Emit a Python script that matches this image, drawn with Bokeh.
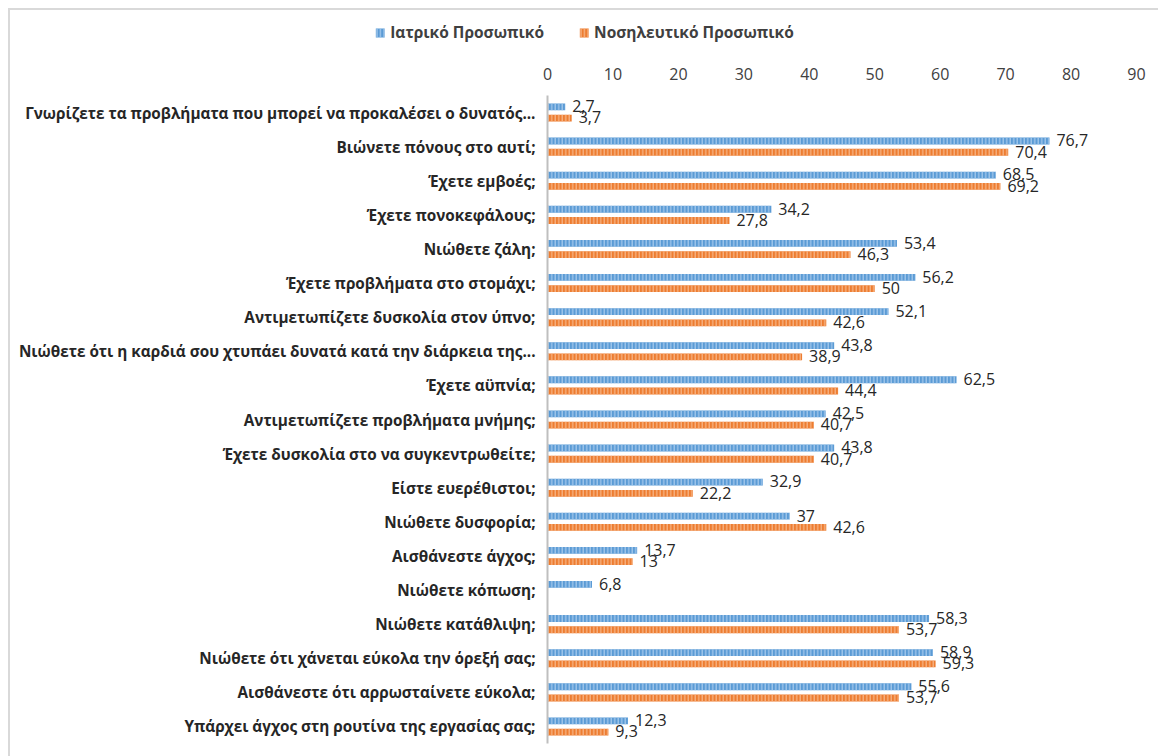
from bokeh.plotting import figure
from bokeh.layouts import column
from bokeh.models import (ColumnDataSource, FactorRange, Range1d, FixedTicker, Legend,
                          LegendItem, CDSView, BooleanFilter)
from bokeh.transform import dodge
from bokeh.core.properties import value
from bokeh.embed import file_html
from bokeh.resources import INLINE

questions = [
    "Γνωρίζετε τα προβλήματα που μπορεί να προκαλέσει ο δυνατός...",
    "Βιώνετε πόνους στο αυτί;",
    "Έχετε εμβοές;",
    "Έχετε πονοκεφάλους;",
    "Νιώθετε ζάλη;",
    "Έχετε προβλήματα στο στομάχι;",
    "Αντιμετωπίζετε δυσκολία στον ύπνο;",
    "Νιώθετε ότι η καρδιά σου χτυπάει δυνατά κατά την διάρκεια της...",
    "Έχετε αϋπνία;",
    "Αντιμετωπίζετε προβλήματα μνήμης;",
    "Έχετε δυσκολία στο να συγκεντρωθείτε;",
    "Είστε ευερέθιστοι;",
    "Νιώθετε δυσφορία;",
    "Αισθάνεστε άγχος;",
    "Νιώθετε κόπωση;",
    "Νιώθετε κατάθλιψη;",
    "Νιώθετε ότι χάνεται εύκολα την όρεξή σας;",
    "Αισθάνεστε ότι αρρωσταίνετε εύκολα;",
    "Υπάρχει άγχος στη ρουτίνα της εργασίας σας;",
]
medical = [2.7, 76.7, 68.5, 34.2, 53.4, 56.2, 52.1, 43.8, 62.5, 42.5,
           43.8, 32.9, 37, 13.7, 6.8, 58.3, 58.9, 55.6, 12.3]
nursing = [3.7, 70.4, 69.2, 27.8, 46.3, 50, 42.6, 38.9, 44.4, 40.7,
           40.7, 22.2, 42.6, 13, float("nan"), 53.7, 59.3, 53.7, 9.3]
series_names = ["Ιατρικό Προσωπικό", "Νοσηλευτικό Προσωπικό"]
x_ticks = [0, 10, 20, 30, 40, 50, 60, 70, 80, 90]

BLUE, BLUE_LINE = "#5B9BD5", "#A9CCEE"
ORANGE, ORANGE_LINE = "#ED7D31", "#F7B98C"
bar_style = [
    dict(fill_color=BLUE, line_color=None, hatch_pattern="vertical_line",
         hatch_color=BLUE_LINE, hatch_scale=3.5, hatch_weight=1.2),
    dict(fill_color=ORANGE, line_color=None, hatch_pattern="vertical_line",
         hatch_color=ORANGE_LINE, hatch_scale=3.5, hatch_weight=1.2),
]


def fmt(v):
    if v != v:
        return ""
    s = ("%.1f" % v).rstrip("0").rstrip(".")
    return s.replace(".", ",")


src = ColumnDataSource(dict(
    q=questions,
    med=medical,
    nur=nursing,
    med_lbl=[fmt(v) for v in medical],
    nur_lbl=[fmt(v) for v in nursing],
))

W = 1148
LEGEND_H = 44

# ---- main bar chart ----
p = figure(width=W, height=746 - LEGEND_H, output_backend="svg", toolbar_location=None,
           y_range=FactorRange(factors=questions[::-1], range_padding=0),
           x_range=Range1d(0, 90), x_axis_location="above",
           min_border_left=537, min_border_right=22, min_border_top=85 - LEGEND_H,
           min_border_bottom=13)
p.frame_align = False
p.outline_line_color = None
p.xgrid.grid_line_color = None
p.ygrid.grid_line_color = None

bar_h = 0.2
off = 0.165
p.hbar(y=dodge("q", off, range=p.y_range), right="med", left=0, height=bar_h,
       source=src, **bar_style[0])
p.hbar(y=dodge("q", -off, range=p.y_range), right="nur", left=0, height=bar_h,
       source=src, **bar_style[1])

label_style = dict(text_font=value("Open Sans"), text_font_size="16px",
                   text_color="#262626", text_baseline="middle", text_align="left",
                   x_offset=7)
p.text(x="med", y=dodge("q", off + 0.02, range=p.y_range), text="med_lbl",
       source=src, **label_style)
nur_view = CDSView(filter=BooleanFilter([v == v for v in nursing]))
p.text(x="nur", y=dodge("q", -off + 0.02, range=p.y_range), text="nur_lbl",
       source=src, view=nur_view, **label_style)

# value axis on top: labels only
xa = p.xaxis[0]
xa.ticker = FixedTicker(ticks=x_ticks)
xa.axis_line_color = None
xa.major_tick_line_color = None
xa.minor_tick_line_color = None
xa.major_label_text_font = "Open Sans"
xa.major_label_text_font_size = "16px"
xa.major_label_text_color = "#404040"
xa.major_label_standoff = 10

# category axis
ya = p.yaxis[0]
ya.axis_line_color = "#BFBFBF"
ya.axis_line_width = 2
ya.major_tick_line_color = None
ya.minor_tick_line_color = None
ya.major_label_text_font = "Open Sans"
ya.major_label_text_font_style = "bold"
ya.major_label_text_font_size = "15.3px"
ya.major_label_text_color = "#262626"
ya.major_label_standoff = 6

# ---- legend strip ----
lg = figure(width=W, height=LEGEND_H, output_backend="svg", toolbar_location=None,
            x_range=Range1d(0, 1), y_range=Range1d(0, 1), min_border=0)
lg.frame_align = False
lg.outline_line_color = None
lg.axis.visible = False
lg.grid.visible = False
# key renderers carry no drawable rows; they only supply the legend swatches
key_src = ColumnDataSource(dict(y=[float("nan")], right=[float("nan")]))
k_med = lg.hbar(y="y", right="right", height=1, source=key_src, **bar_style[0])
k_nur = lg.hbar(y="y", right="right", height=1, source=key_src, **bar_style[1])
legend = Legend(items=[LegendItem(label=series_names[0], renderers=[k_med]),
                       LegendItem(label=series_names[1], renderers=[k_nur])],
                orientation="horizontal", location="center",
                label_text_font="Open Sans", label_text_font_style="bold",
                label_text_font_size="15.5px", label_text_color="#404040",
                glyph_width=11, glyph_height=11, spacing=34, label_standoff=5,
                border_line_color=None, background_fill_alpha=0, padding=2, margin=0)
lg.add_layout(legend, "center")

page = column(lg, p, spacing=0)
page.styles = {"margin-left": "8px", "margin-top": "8px",
               "border-left": "2px solid #D9D9D9", "border-top": "2px solid #D9D9D9"}

open("out.html", "w").write(file_html(page, INLINE))
